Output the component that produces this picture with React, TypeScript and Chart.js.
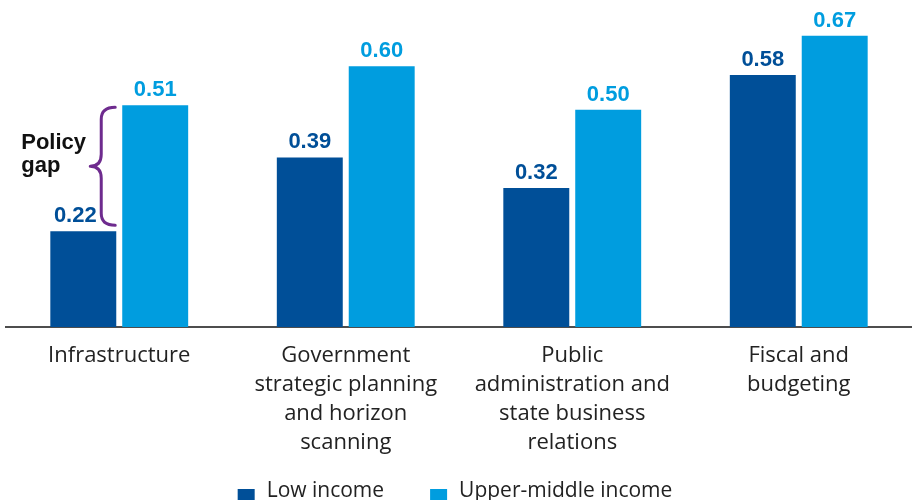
import React, { useEffect, useRef } from "react";
import { Chart, registerables } from "chart.js";

Chart.register(...registerables);

const categories: string[][] = [
  ["Infrastructure"],
  ["Government", "strategic planning", "and horizon", "scanning"],
  ["Public", "administration and", "state business", "relations"],
  ["Fiscal and", "budgeting"],
];
const lowIncome = [0.22, 0.39, 0.32, 0.58];
const upperMiddleIncome = [0.51, 0.6, 0.5, 0.67];
const seriesNames = ["Low income", "Upper-middle income"];
const seriesColors = ["#004f98", "#009ddf"];
const annotationLines = ["Policy", "gap"];
const annotationCategory = 0;

const LABEL_FONT = "'Open Sans', sans-serif";
const BOLD_FONT = "'Liberation Sans', Arial, sans-serif";

const valueLabels = {
  id: "valueLabels",
  afterDatasetsDraw(chart: any) {
    const ctx = chart.ctx;
    ctx.save();
    ctx.font = `bold 22px ${BOLD_FONT}`;
    ctx.textAlign = "center";
    ctx.textBaseline = "alphabetic";
    chart.data.datasets.forEach((ds: any, di: number) => {
      const meta = chart.getDatasetMeta(di);
      meta.data.forEach((bar: any, i: number) => {
        const shift = di === 0 && i === annotationCategory ? -8 : 0;
        ctx.fillStyle = ds.backgroundColor;
        ctx.fillText(ds.data[i].toFixed(2), bar.x + shift, bar.y - 9);
      });
    });
    ctx.restore();
  },
};

const gapBrace = {
  id: "gapBrace",
  afterDatasetsDraw(chart: any) {
    const ctx = chart.ctx;
    const low = chart.getDatasetMeta(0).data[annotationCategory];
    const high = chart.getDatasetMeta(1).data[annotationCategory];
    const xR = high.x - high.width / 2 - 7;
    const xS = xR - 14;
    const xL = xR - 25;
    const yT = high.y + 2;
    const yB = low.y - 6;
    const yM = (yT + yB) / 2;
    const r = 12;
    ctx.save();
    ctx.strokeStyle = "#6e2b8e";
    ctx.lineWidth = 3;
    ctx.lineCap = "round";
    ctx.lineJoin = "round";
    ctx.beginPath();
    ctx.moveTo(xR, yT);
    ctx.quadraticCurveTo(xS, yT, xS, yT + r);
    ctx.lineTo(xS, yM - r);
    ctx.quadraticCurveTo(xS, yM, xL, yM);
    ctx.quadraticCurveTo(xS, yM, xS, yM + r);
    ctx.lineTo(xS, yB - r);
    ctx.quadraticCurveTo(xS, yB, xR, yB);
    ctx.stroke();
    ctx.fillStyle = "#111111";
    ctx.font = `bold 22px ${BOLD_FONT}`;
    ctx.textAlign = "left";
    ctx.textBaseline = "alphabetic";
    ctx.fillText(annotationLines[0], xL - 69, yM - 17);
    ctx.fillText(annotationLines[1], xL - 69, yM + 6);
    ctx.restore();
  },
};

const bottomLegend = {
  id: "bottomLegend",
  afterDraw(chart: any) {
    const ctx = chart.ctx;
    ctx.save();
    ctx.font = `21px ${LABEL_FONT}`;
    const box = 17;
    const gapText = 12;
    const gapItem = 46;
    const items = chart.data.datasets.map((ds: any) => ({
      text: ds.label,
      color: ds.backgroundColor,
      w: ctx.measureText(ds.label).width,
    }));
    const total =
      items.reduce((s: number, it: any) => s + box + gapText + it.w, 0) +
      gapItem * (items.length - 1);
    let x = chart.width / 2 - 1 - total / 2;
    const boxTop = 489;
    const baseline = 497;
    ctx.textAlign = "left";
    ctx.textBaseline = "alphabetic";
    items.forEach((it: any) => {
      ctx.fillStyle = it.color;
      ctx.fillRect(x, boxTop, box, box);
      ctx.fillStyle = "#222222";
      ctx.fillText(it.text, x + box + gapText, baseline);
      x += box + gapText + it.w + gapItem;
    });
    ctx.restore();
  },
};

export default function App() {
  const canvasRef = useRef<HTMLCanvasElement | null>(null);

  useEffect(() => {
    document.body.style.margin = "0";
    const canvas = canvasRef.current;
    if (!canvas) return;
    const chart = new Chart(canvas, {
      type: "bar",
      data: {
        labels: categories,
        datasets: [
          {
            label: seriesNames[0],
            data: lowIncome,
            backgroundColor: seriesColors[0],
            categoryPercentage: 0.635,
            barPercentage: 0.917,
          },
          {
            label: seriesNames[1],
            data: upperMiddleIncome,
            backgroundColor: seriesColors[1],
            categoryPercentage: 0.635,
            barPercentage: 0.917,
          },
        ],
      },
      options: {
        responsive: false,
        animation: false,
        devicePixelRatio: 1,
        layout: { padding: { top: 1, left: 6, right: 0, bottom: 29 } },
        plugins: {
          legend: { display: false },
          tooltip: { enabled: false },
          title: { display: false },
        },
        scales: {
          x: {
            grid: { display: false, drawTicks: false },
            border: { display: true, color: "#4d4d4d", width: 2 },
            ticks: {
              color: "#222222",
              font: { family: LABEL_FONT, size: 22, lineHeight: 29 / 22 },
              padding: 14,
              maxRotation: 0,
              autoSkip: false,
            },
          },
          y: {
            display: false,
            min: 0,
            max: 0.75,
          },
        },
      },
      plugins: [valueLabels, gapBrace, bottomLegend],
    });
    return () => chart.destroy();
  }, []);

  return (
    <div style={{ width: 912, height: 500 }}>
      <canvas ref={canvasRef} width={912} height={500} />
    </div>
  );
}
